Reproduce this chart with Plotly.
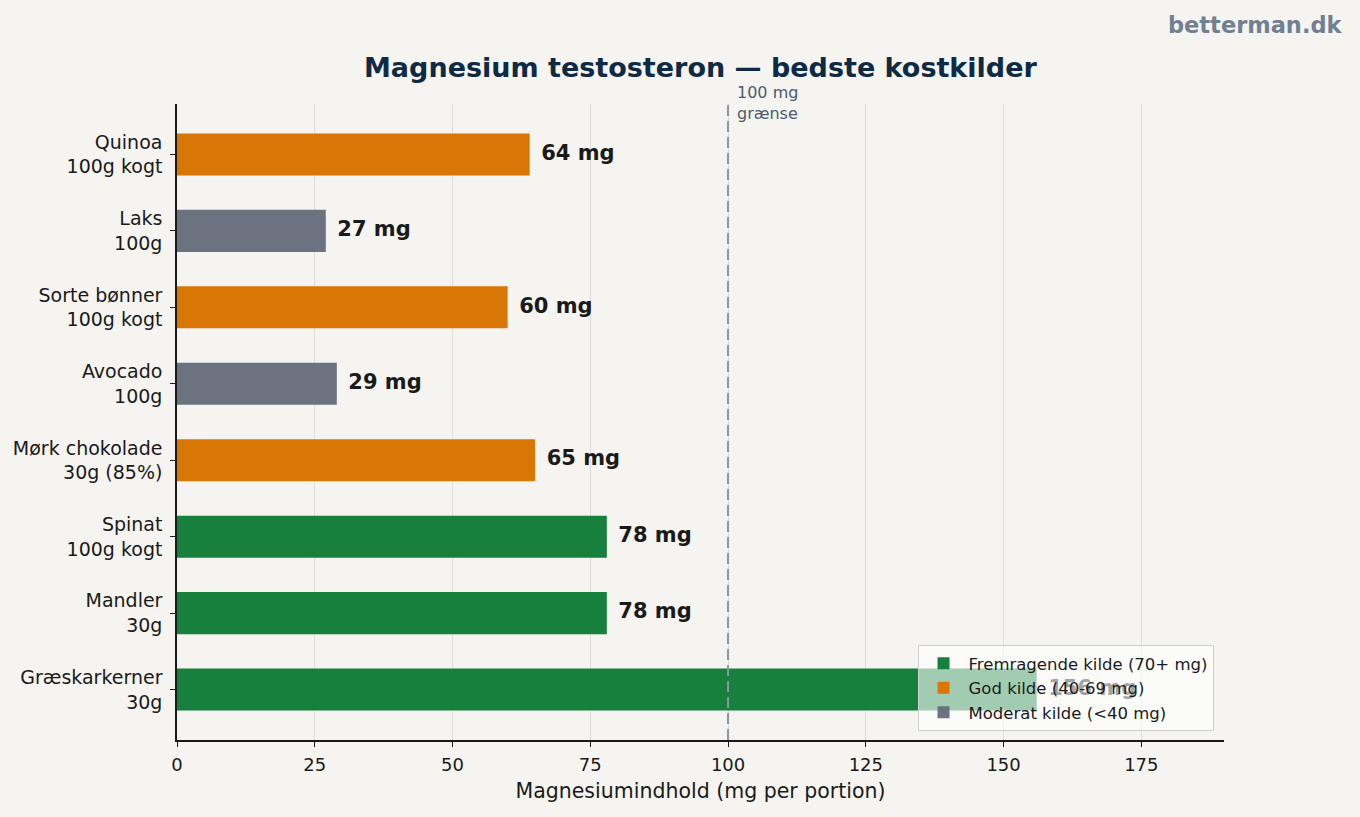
import plotly.graph_objects as go

foods = ["Quinoa<br>100g kogt", "Laks<br>100g", "Sorte bønner<br>100g kogt", "Avocado<br>100g",
         "Mørk chokolade<br>30g (85%)", "Spinat<br>100g kogt", "Mandler<br>30g", "Græskarkerner<br>30g"]
values = [64, 27, 60, 29, 65, 78, 78, 156]
groups = ["God", "Moderat", "God", "Moderat", "God", "Fremragende", "Fremragende", "Fremragende"]

group_names = ["Fremragende", "God", "Moderat"]
group_labels = {"Fremragende": "Fremragende kilde (70+ mg)",
                "God": "God kilde (40-69 mg)",
                "Moderat": "Moderat kilde (<40 mg)"}
group_colors = {"Fremragende": "#16803c", "God": "#d97706", "Moderat": "#6b7280"}

threshold = 100
x_ticks = [0, 25, 50, 75, 100, 125, 150, 175]

FONT = "DejaVu Sans"

fig = go.Figure()
for g in group_names:
    ys = [f for f, gg in zip(foods, groups) if gg == g]
    xs = [v for v, gg in zip(values, groups) if gg == g]
    fig.add_trace(go.Bar(y=ys, x=xs, orientation="h", name=group_labels[g],
                         marker=dict(color=group_colors[g], line=dict(width=0)),
                         width=0.55))

fig.add_trace(go.Scatter(y=foods, x=values, mode="text",
                         text=[f"\u00a0\u2009{v} mg" for v in values],
                         textposition="middle right",
                         textfont=dict(family=FONT, size=21, color="#1a1a1a", weight="bold"),
                         showlegend=False, hoverinfo="skip", cliponaxis=False))

fig.add_shape(type="line", x0=threshold, x1=threshold, y0=0, y1=1, yref="paper",
              line=dict(color="#8a96a3", width=2, dash="11px,5px"))
fig.add_annotation(x=threshold, y=1.0, yref="paper", text="100 mg<br>grænse", showarrow=False,
                   xanchor="left", yanchor="bottom", xshift=7, yshift=-21, align="left",
                   font=dict(family=FONT, size=16, color="#4a5a6e"))
fig.add_annotation(x=1.1155, y=1.124, xref="paper", yref="paper", text="<b>betterman.dk</b>",
                   showarrow=False, xanchor="right", yanchor="middle",
                   font=dict(family=FONT, size=22.5, color="#708090"))

fig.update_layout(
    width=1360, height=817,
    paper_bgcolor="#f5f4f0", plot_bgcolor="#f5f4f0",
    margin=dict(l=177, r=136, t=104, b=77),
    barmode="overlay",
    title=dict(text="<b>Magnesium testosteron — bedste kostkilder</b>", x=0.515, xanchor="center",
               y=0.917, yanchor="middle",
               font=dict(family=FONT, size=27, color="#0f2a44")),
    font=dict(family=FONT, size=18, color="#1a1a1a"),
    legend=dict(x=0.99, y=0.014, xanchor="right", yanchor="bottom", traceorder="normal",
                bgcolor="rgba(255,255,255,0.6)", bordercolor="#d0d0d0", borderwidth=1,
                itemwidth=40,
                font=dict(family=FONT, size=16.5, color="#1a1a1a")),
    showlegend=True,
)
fig.update_xaxes(range=[0, 190], tickvals=x_ticks, showgrid=True, gridcolor="#dddddd", gridwidth=1,
                 showline=True, linecolor="#1a1a1a", linewidth=1.5, ticks="outside", ticklen=5,
                 tickcolor="#1a1a1a", zeroline=False, tickfont=dict(size=18), ticklabelstandoff=3,
                 title=dict(text="Magnesiumindhold (mg per portion)", font=dict(size=20.5), standoff=9))
fig.update_yaxes(categoryorder="array", categoryarray=foods, range=[7.66, -0.66], showgrid=False,
                 showline=True, linecolor="#1a1a1a", linewidth=1.5, ticks="outside", ticklen=5,
                 tickcolor="#1a1a1a", zeroline=False, tickfont=dict(size=19), ticklabelstandoff=4)

fig.write_html("out.html")
